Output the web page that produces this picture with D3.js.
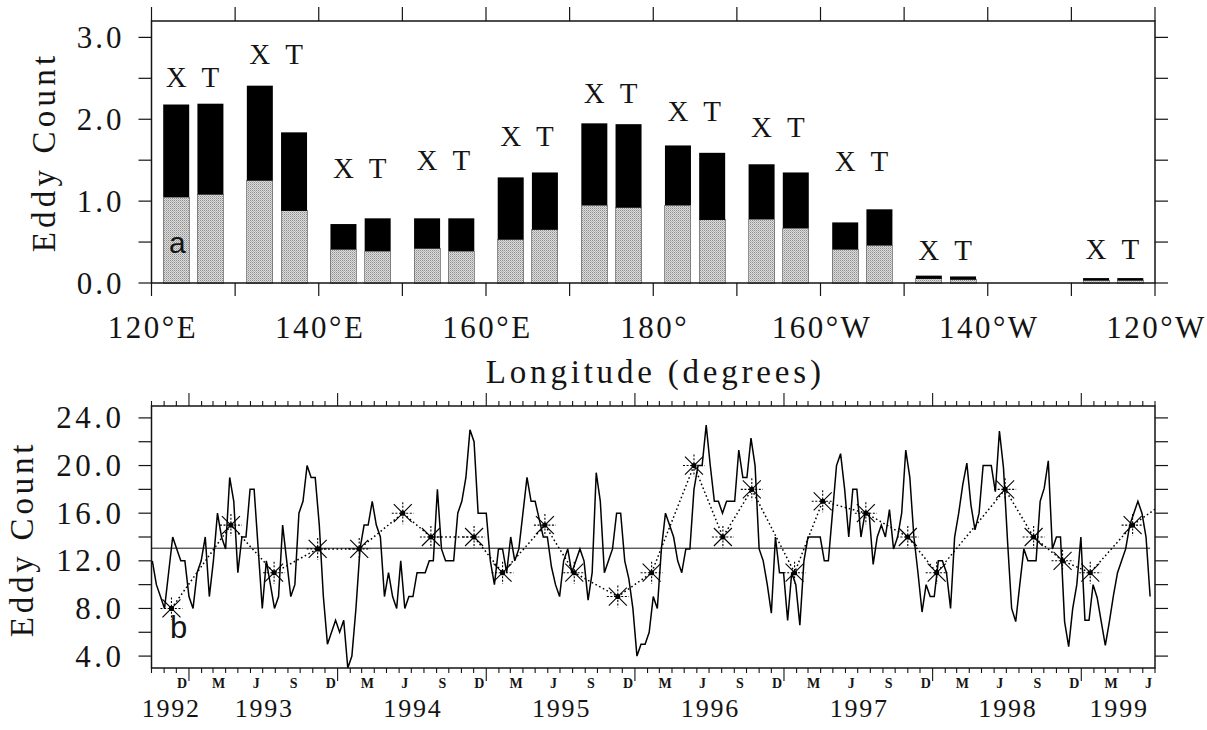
<!DOCTYPE html>
<html><head><meta charset="utf-8">
<script src="https://cdn.jsdelivr.net/npm/d3@7"></script>
<style>html,body{margin:0;padding:0;background:#fff}</style>
</head><body>
<svg id="chart" width="1207" height="730"></svg>
<script>
// ---------------- DATA ----------------
// Panel a: eddy counts per 10-degree longitude bin
const lonBins   = [120,130,140,150,160,170,180,190,200,210,220,230];
const xTotal    = [2.18,2.41,0.72,0.79,1.29,1.95,1.68,1.45,0.74,0.09,0,0.06];
const xShaded   = [1.05,1.25,0.41,0.42,0.53,0.95,0.95,0.78,0.41,0.05,0,0.03];
const tTotal    = [2.19,1.84,0.79,0.79,1.35,1.94,1.59,1.35,0.90,0.08,0,0.06];
const tShaded   = [1.08,0.88,0.39,0.39,0.65,0.92,0.77,0.67,0.46,0.04,0,0.03];
const labelLevel= [2.39,2.68,1.28,1.38,1.67,2.20,1.98,1.78,1.37,0.28,null,0.29];
const barKinds  = ["X","T"];
const lonTickValues = [120,130,140,150,160,170,180,190,200,210,220,230,240];
const lonLabelValues= [120,140,160,180,200,220,240];
const lonLabels     = ["120°E","140°E","160°E","180°","160°W","140°W","120°W"];
const yTopTicks     = [0,0.5,1,1.5,2,2.5,3];
const yTopLabels    = [0,1,2,3];

// Panel b: eddy count time series (10-day intervals)
const seriesStart = "1992-10-03";
const stepDays = 10;
const counts = [12,10,9,8,11,14,13,12,12,9,8,11,12,14,9,12,16,14,13,19,
17,11,14,14,18,18,13,8,12,10,8,9,15,12,9,10,16,17,20,19,
19,15,9,5,6,7,6,7,3,4,8,13,15,15,17,15,14,9,11,9,
8,12,8,9,9,11,11,11,12,12,18,13,12,12,12,16,17,19,23,22,
16,16,16,12,10,13,13,11,14,12,13,16,19,17,17,15.5,14,14,11.5,10,
9,12,13,11,12,13,12,8.7,11,19.4,17,11,12,13,16,16,12,10.5,8,4,
5,5,6,9,8,13,16,15,14,12,11,13,13,18,20,20,23.4,20,17,17,
16,17,17,17,21.3,19,19,22.3,20,13,12,10,7.6,14,11,11,7,11,10,6.6,
12,14,14,14,14,12,12,16,20,21,18,14,18,18,14,16,16,11.7,14,15,
14,16.3,13,14,16,21.3,19,14,11,7.7,10,9,9,12,12,11,8,14,16,18.4,
20.2,16.7,14.6,16,20,20,20,17.8,22.9,19.8,13.6,8,6.9,10,13,12,12,12,17,18.1,
20.4,13,14,14,6.9,4.8,8,10,14,7,7,10,8.9,6.9,4.9,6.9,9.1,11,12,13,
15,16,17,16,14,9];
const meanLevel = 13.06;
const seasonDates = ["1992-11-19","1993-04-14","1993-07-29","1993-11-13","1994-02-23","1994-06-10",
"1994-08-18","1994-12-02","1995-02-10","1995-05-25","1995-08-05","1995-11-20","1996-02-11",
"1996-05-25","1996-08-04","1996-10-14","1997-01-27","1997-04-06","1997-07-21","1997-11-01",
"1998-01-11","1998-06-28","1998-09-06","1998-11-16","1999-01-23","1999-05-07","1999-07-12"];
const seasonValues = [8,15,11,13,13,16,14,14,11,15,11,9,11,20,14,18,11,17,16,14,11,18,14,12,11,15,16.6];
const timeDomain = ["1992-10-01","1999-07-01"];
const yBotTicks  = [4,6,8,10,12,14,16,18,20,22,24];
const yBotLabels = [4,8,12,16,20,24];
const labelMonths = [2,5,8,11];
const monthInitials = ["J","F","M","A","M","J","J","A","S","O","N","D"];
const years = [1992,1993,1994,1995,1996,1997,1998,1999];

// ---------------- DRAW ----------------
const svg = d3.select("#chart");
const ink = "#141414";
const serif = "'Liberation Serif', 'Times New Roman', serif";
const parse = s => new Date(s + "T00:00:00Z");

const defs = svg.append("defs");
const pat = defs.append("pattern").attr("id","stipple").attr("patternUnits","userSpaceOnUse")
  .attr("width",2).attr("height",2);
pat.append("rect").attr("width",2).attr("height",2).attr("fill","#dcdcdc");
[[0,0,"#8e8e8e"],[1,1,"#b4b4b4"]].forEach(([px,py,c]) =>
  pat.append("rect").attr("x",px).attr("y",py).attr("width",1).attr("height",1).attr("fill",c));

const L = 151.5, R = 1155;
// ===== Panel a =====
const aTop = 21, aBot = 283;
const xL = d3.scaleLinear().domain([120,240]).range([L,R]);
const yT = d3.scaleLinear().domain([0,3.2]).range([aBot,aTop]);
const ga = svg.append("g");

lonBins.forEach((lo,i) => {
  const sub = d3.scaleBand().domain(barKinds).range([xL(lo+1.4), xL(lo+8.6)]).paddingInner(0.24);
  const vals = {X:[xTotal[i],xShaded[i]], T:[tTotal[i],tShaded[i]]};
  barKinds.forEach(k => {
    const [tot, sh] = vals[k];
    if (!tot) return;
    ga.append("rect").attr("x",sub(k)).attr("width",sub.bandwidth())
      .attr("y",yT(sh)).attr("height",yT(0)-yT(sh))
      .attr("fill","url(#stipple)").attr("stroke","#707070").attr("stroke-width",0.8)
      .attr("shape-rendering","crispEdges");
    ga.append("rect").attr("x",sub(k)).attr("width",sub.bandwidth())
      .attr("y",yT(tot)).attr("height",yT(sh)-yT(tot)).attr("fill","#000");
    if (labelLevel[i] != null) {
      ga.append("text").attr("x",sub(k)+sub.bandwidth()/2).attr("y",yT(labelLevel[i]))
        .attr("text-anchor","middle").attr("font-family",serif).attr("font-size",29)
        .attr("fill",ink).text(k);
    }
  });
});

ga.append("rect").attr("x",L).attr("y",aTop).attr("width",R-L).attr("height",aBot-aTop)
  .attr("fill","none").attr("stroke",ink).attr("stroke-width",1.5);

yTopTicks.forEach(v => {
  ga.append("line").attr("x1",L-13).attr("x2",L).attr("y1",yT(v)).attr("y2",yT(v)).attr("stroke",ink).attr("stroke-width",1.2);
  ga.append("line").attr("x1",R).attr("x2",R+13).attr("y1",yT(v)).attr("y2",yT(v)).attr("stroke",ink).attr("stroke-width",1.2);
});
lonTickValues.forEach(v => {
  ga.append("line").attr("x1",xL(v)).attr("x2",xL(v)).attr("y1",aBot).attr("y2",aBot+13).attr("stroke",ink).attr("stroke-width",1.2);
  ga.append("line").attr("x1",xL(v)).attr("x2",xL(v)).attr("y1",aTop-14).attr("y2",aTop).attr("stroke",ink).attr("stroke-width",1.2);
});
const f1 = d3.format(".1f");
yTopLabels.forEach(v => {
  ga.append("text").attr("x",L-27).attr("y",yT(v)).attr("dy","0.34em")
    .attr("text-anchor","end").attr("font-family",serif).attr("font-size",31)
    .attr("letter-spacing",3).attr("fill",ink).text(f1(v));
});
lonLabelValues.forEach((v,i) => {
  ga.append("text").attr("x",xL(v)+1.5).attr("y",338)
    .attr("text-anchor","middle").attr("font-family",serif).attr("font-size",31)
    .attr("letter-spacing",2.5).attr("fill",ink).text(lonLabels[i]);
});
ga.append("text").attr("x",(L+R)/2+2).attr("y",383).attr("text-anchor","middle")
  .attr("font-family",serif).attr("font-size",33).attr("letter-spacing",3.8)
  .attr("fill",ink).text("Longitude (degrees)");
ga.append("text").attr("transform",`translate(55,${(aTop+aBot)/2}) rotate(-90)`)
  .attr("text-anchor","middle").attr("font-family",serif).attr("font-size",33)
  .attr("letter-spacing",4.2).attr("fill",ink).text("Eddy Count");
ga.append("text").attr("x",169).attr("y",253).attr("font-family","'Liberation Sans', Arial, sans-serif")
  .attr("font-size",30).attr("fill",ink).text("a");

// ===== Panel b =====
const bTop = 406, bBot = 668;
const xB = d3.scaleUtc().domain(timeDomain.map(parse)).range([L,R]);
const yB = d3.scaleLinear().domain([3,25]).range([bBot,bTop]);
const gb = svg.append("g");
const t0 = parse(seriesStart);
const dateAt = i => d3.utcDay.offset(t0, i*stepDays);

defs.append("clipPath").attr("id","plotb").append("rect")
  .attr("x",L).attr("y",bTop).attr("width",R-L).attr("height",bBot-bTop);

// mean line
gb.append("line").attr("x1",L).attr("x2",xB(dateAt(counts.length-1)))
  .attr("y1",yB(meanLevel)).attr("y2",yB(meanLevel)).attr("stroke",ink).attr("stroke-width",1);

// series
const line = d3.line().x((d,i)=>xB(dateAt(i))).y(d=>yB(d));
gb.append("path").datum(counts).attr("d",line).attr("fill","none")
  .attr("stroke","#000").attr("stroke-width",1.5).attr("stroke-linejoin","miter");

// seasonal dotted line + asterisks
const season = seasonDates.map((s,i)=>({t:parse(s), v:seasonValues[i]}));
const sLine = d3.line().x(d=>xB(d.t)).y(d=>yB(d.v));
gb.append("path").datum(season).attr("d",sLine).attr("clip-path","url(#plotb)")
  .attr("fill","none").attr("stroke","#000").attr("stroke-width",1.5)
  .attr("stroke-dasharray","1.6,2.6");
const dom = xB.domain();
season.filter(d => d.t >= dom[0] && d.t <= dom[1]).forEach(d => {
  const g = gb.append("g").attr("transform",`translate(${xB(d.t)},${yB(d.v)})`);
  [[-9,-9,9,9],[-9,9,9,-9]].forEach(c => g.append("line").attr("x1",c[0]).attr("y1",c[1]).attr("x2",c[2]).attr("y2",c[3])
    .attr("stroke","#000").attr("stroke-width",1.1));
  [[-11,0,11,0],[0,-11,0,11]].forEach(c => g.append("line").attr("x1",c[0]).attr("y1",c[1]).attr("x2",c[2]).attr("y2",c[3])
    .attr("stroke","#000").attr("stroke-width",1.1).attr("stroke-dasharray","2,1.6"));
  g.append("circle").attr("r",2.6).attr("fill","#000");
});

gb.append("rect").attr("x",L).attr("y",bTop).attr("width",R-L).attr("height",bBot-bTop)
  .attr("fill","none").attr("stroke",ink).attr("stroke-width",1.5);

yBotTicks.forEach(v => {
  gb.append("line").attr("x1",L-13).attr("x2",L).attr("y1",yB(v)).attr("y2",yB(v)).attr("stroke",ink).attr("stroke-width",1.2);
  gb.append("line").attr("x1",R).attr("x2",R+13).attr("y1",yB(v)).attr("y2",yB(v)).attr("stroke",ink).attr("stroke-width",1.2);
});
yBotLabels.forEach(v => {
  gb.append("text").attr("x",L-27).attr("y",yB(v)).attr("dy","0.34em")
    .attr("text-anchor","end").attr("font-family",serif).attr("font-size",31)
    .attr("letter-spacing",3.5).attr("fill",ink).text(f1(v));
});
const months = d3.utcMonth.range(dom[0], d3.utcDay.offset(dom[1],1));
months.forEach(m => {
  const major = m.getUTCMonth() === 0;
  const len = major ? 13 : 5;
  gb.append("line").attr("x1",xB(m)).attr("x2",xB(m)).attr("y1",bBot).attr("y2",bBot+len).attr("stroke",ink).attr("stroke-width",1.1);
  gb.append("line").attr("x1",xB(m)).attr("x2",xB(m)).attr("y1",bTop-len).attr("y2",bTop).attr("stroke",ink).attr("stroke-width",1.1);
});
months.filter(m => labelMonths.includes(m.getUTCMonth())).forEach(m => {
  const mid = d3.utcDay.offset(m, 14);
  if (mid > dom[1]) return;
  gb.append("text").attr("x",xB(mid)).attr("y",688).attr("text-anchor","middle")
    .attr("font-family",serif).attr("font-weight","bold").attr("font-size",14)
    .attr("fill",ink).text(monthInitials[m.getUTCMonth()]);
});
years.forEach(y => {
  const s = d3.max([new Date(Date.UTC(y,0,1)), dom[0]]);
  const e = d3.min([new Date(Date.UTC(y+1,0,1)), dom[1]]);
  gb.append("text").attr("x",(xB(s)+xB(e))/2+1).attr("y",716.5).attr("text-anchor","middle")
    .attr("font-family",serif).attr("font-size",26).attr("letter-spacing",1.8)
    .attr("fill",ink).text(y);
});
gb.append("text").attr("transform",`translate(33,${(bTop+bBot)/2+2}) rotate(-90)`)
  .attr("text-anchor","middle").attr("font-family",serif).attr("font-size",33)
  .attr("letter-spacing",3.8).attr("fill",ink).text("Eddy Count");
gb.append("text").attr("x",170).attr("y",638).attr("font-family","'Liberation Sans', Arial, sans-serif")
  .attr("font-size",31).attr("fill",ink).text("b");
</script>
</body></html>
